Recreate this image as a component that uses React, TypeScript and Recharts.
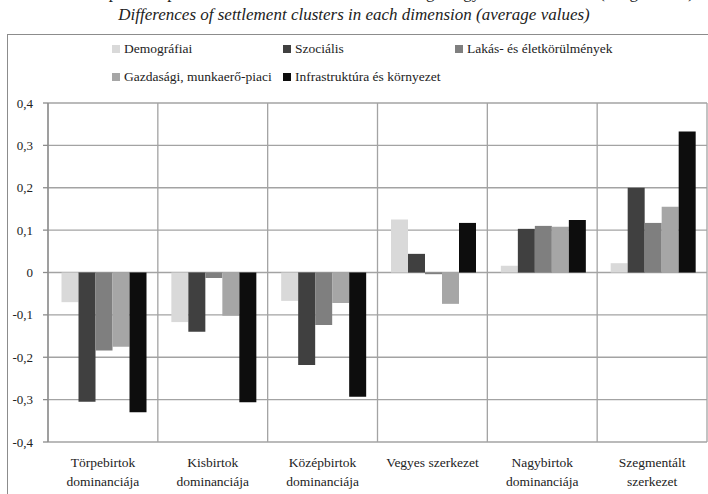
import React from 'react';
import { BarChart, Bar, XAxis, YAxis, CartesianGrid } from 'recharts';

const categories = [
  'Törpebirtok\ndominanciája',
  'Kisbirtok\ndominanciája',
  'Középbirtok\ndominanciája',
  'Vegyes szerkezet',
  'Nagybirtok\ndominanciája',
  'Szegmentált\nszerkezet',
];

const demografiai = [-0.07, -0.117, -0.067, 0.125, 0.016, 0.022];
const szocialis = [-0.305, -0.14, -0.218, 0.044, 0.103, 0.2];
const lakas = [-0.184, -0.013, -0.124, -0.004, 0.11, 0.117];
const gazdasagi = [-0.175, -0.102, -0.072, -0.074, 0.108, 0.155];
const infrastruktura = [-0.33, -0.306, -0.293, 0.117, 0.124, 0.333];

const yTicks = [-0.4, -0.3, -0.2, -0.1, 0, 0.1, 0.2, 0.3, 0.4];

const series = [
  { key: 'demografiai', name: 'Demográfiai', color: '#d9d9d9' },
  { key: 'szocialis', name: 'Szociális', color: '#404040' },
  { key: 'lakas', name: 'Lakás- és életkörülmények', color: '#7f7f7f' },
  { key: 'gazdasagi', name: 'Gazdasági, munkaerő-piaci', color: '#a6a6a6' },
  { key: 'infrastruktura', name: 'Infrastruktúra és környezet', color: '#0d0d0d' },
];

const data = categories.map((name, i) => ({
  name,
  demografiai: demografiai[i],
  szocialis: szocialis[i],
  lakas: lakas[i],
  gazdasagi: gazdasagi[i],
  infrastruktura: infrastruktura[i],
}));

const FONT = '"Liberation Serif", "DejaVu Serif", serif';

const legendPos = [
  { left: 112, top: 41 },
  { left: 283, top: 41 },
  { left: 455, top: 41 },
  { left: 112, top: 69 },
  { left: 283, top: 69 },
];

const CategoryTick = (props: any) => {
  const { x, y, payload } = props;
  const lines = String(payload.value).split('\n');
  return (
    <text x={x} y={y} textAnchor="middle" fontFamily={FONT} fontSize={13.5} fill="#222">
      {lines.map((l, i) => (
        <tspan key={i} x={x} dy={i === 0 ? 17 : 19}>{l}</tspan>
      ))}
    </text>
  );
};

const fmt = (v: number) => (v === 0 ? '0' : v.toFixed(1).replace('.', ','));

export default function App() {
  const n = categories.length;
  return (
    <div style={{ position: 'fixed', left: 0, top: 0, width: 708, height: 494, overflow: 'hidden', background: '#fff', fontFamily: FONT }}>
      <div style={{ position: 'absolute', left: -200, width: 1108, top: -17, textAlign: 'center', fontSize: 17, whiteSpace: 'nowrap', color: '#222' }}>
        3. ábra: A településcsoportok dimenziónkénti eltérései a vizsgált egyes dimenziókban (átlagértékek)
      </div>
      <div style={{ position: 'absolute', left: 0, width: 708, top: 5, textAlign: 'center', fontSize: 17, fontStyle: 'italic', color: '#222', lineHeight: '20px' }}>
        Differences of settlement clusters in each dimension (average values)
      </div>
      <div style={{ position: 'absolute', left: 7, top: 34, width: 800, height: 600, borderTop: '1px solid #8c8c8c', borderLeft: '1px solid #8c8c8c' }} />
      {series.map((s, i) => (
        <div key={s.key} style={{ position: 'absolute', left: legendPos[i].left, top: legendPos[i].top, fontSize: 13.5, lineHeight: '15px', whiteSpace: 'nowrap', color: '#222' }}>
          <span style={{ display: 'inline-block', width: 8, height: 8, background: s.color, marginRight: 4 }} />
          {s.name}
        </div>
      ))}
      <div style={{ position: 'absolute', left: 0, top: 0 }}>
        <BarChart
          width={708}
          height={494}
          data={data}
          margin={{ top: 103, right: 1, bottom: 0, left: 0 }}
          barCategoryGap="12.3%"
          barGap={0}
        >
          <CartesianGrid
            stroke="#a3a3a3"
            strokeWidth={1.3}
            verticalCoordinatesGenerator={({ offset }: any) =>
              Array.from({ length: n + 1 }, (_, i) => offset.left + (offset.width * i) / n)
            }
          />
          <XAxis dataKey="name" axisLine={false} tickLine={false} interval={0} tick={<CategoryTick />} height={52} />
          <YAxis
            width={48}
            domain={[-0.4, 0.4]}
            ticks={yTicks}
            tickFormatter={fmt}
            axisLine={{ stroke: '#8c8c8c', strokeWidth: 1.3 }}
            tickLine={{ stroke: '#8c8c8c', strokeWidth: 1.3 }}
            tickSize={5}
            tickMargin={10}
            tick={{ fontFamily: FONT, fontSize: 13, fill: '#222' }}
            interval={0}
          />
          {series.map((s) => (
            <Bar key={s.key} dataKey={s.key} name={s.name} fill={s.color} isAnimationActive={false} />
          ))}
        </BarChart>
      </div>
    </div>
  );
}
